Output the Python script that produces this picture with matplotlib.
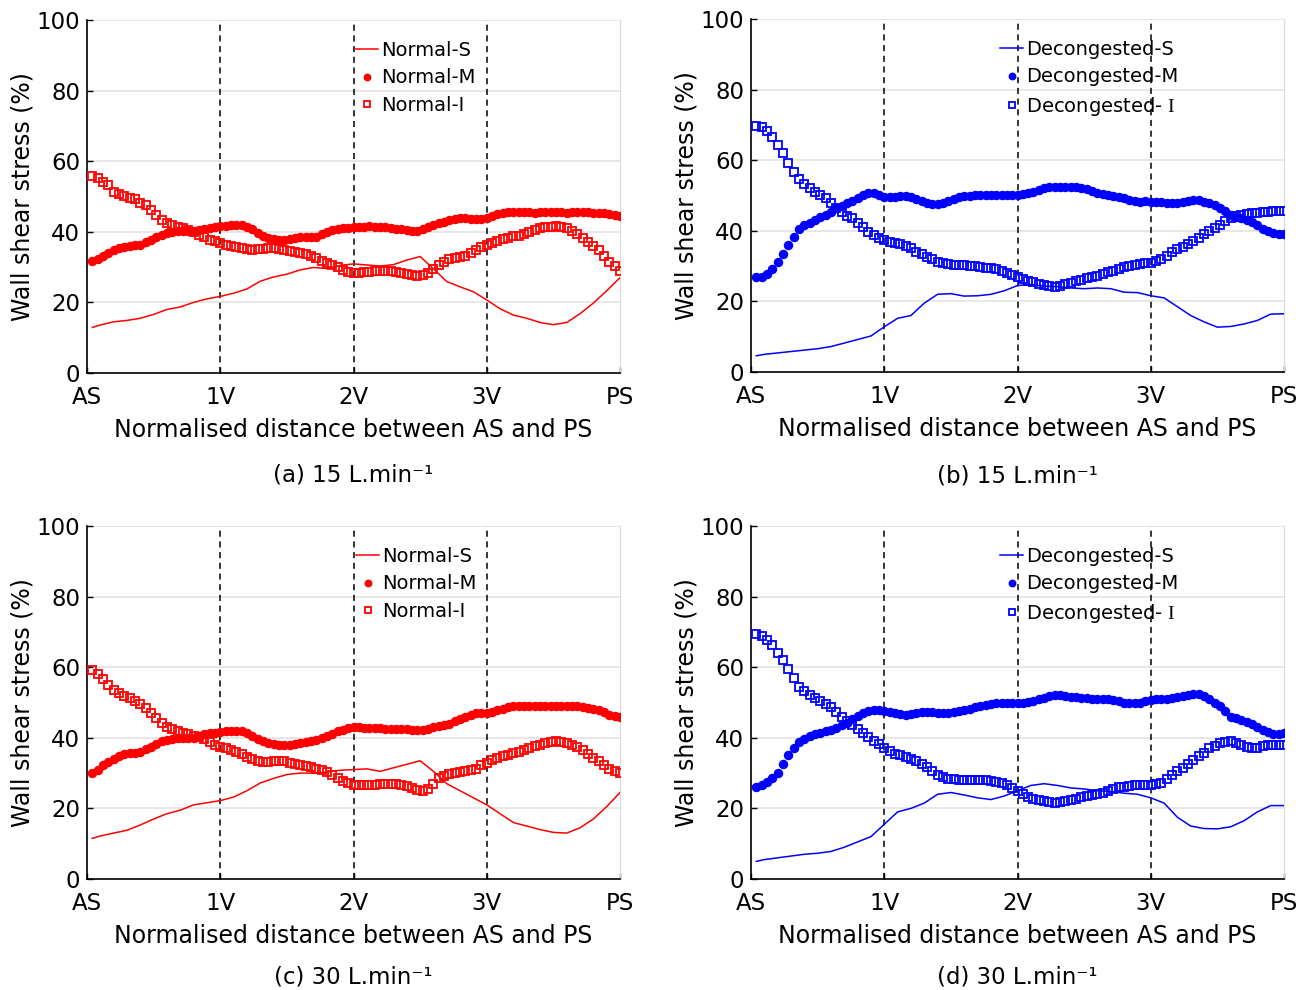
import numpy as np
import matplotlib
matplotlib.use("Agg")
import matplotlib.pyplot as plt

plt.rcParams['font.family'] = ['DejaVu Sans']
plt.rcParams['mathtext.fontset'] = 'custom'
plt.rcParams['mathtext.rm'] = 'Liberation Serif'

# ---------------- data ----------------
# marker series sampled at x = 0.04*i, i = 1..100 (AS=0, 1V=1, 2V=2, 3V=3, PS=4)
x_pts = np.arange(1, 101) * 0.04
# line series sampled at these positions
x_line = np.array([0.04] + [0.1 * k for k in range(1, 41)])

xtick_pos = [0, 1, 2, 3, 4]
xtick_labels = ["AS", "1V", "2V", "3V", "PS"]
vlines = [1, 2, 3]

# (a) Normal, 15 L/min
a_S = [12.9, 13.6, 14.5, 14.9, 15.5, 16.6, 18.0, 18.7, 20.0, 21.0, 21.7,
       22.6, 23.8, 26.0, 27.2, 28.0, 29.2, 29.9, 29.6, 30.5, 30.9,
       30.6, 30.3, 30.7, 32.0, 33.0, 29.5, 25.9, 24.4, 23.0, 20.7,
       18.2, 16.4, 15.5, 14.3, 13.7, 14.3, 16.8, 19.8, 23.3, 27.0]
a_M = [31.8, 32.3, 33.1, 34.0, 34.8, 35.4, 35.8, 36.0, 36.2, 36.4,
       37.0, 37.7, 38.4, 39.1, 39.6, 40.0, 40.2, 40.3, 40.2, 40.2,
       40.5, 40.9, 41.1, 41.4, 41.6, 41.7, 41.8, 41.9, 41.9, 41.4,
       40.7, 39.8, 38.9, 38.3, 38.0, 37.8, 37.8, 38.0, 38.2, 38.4,
       38.4, 38.4, 38.6, 39.3, 40.0, 40.4, 40.8, 41.0, 41.2, 41.3,
       41.4, 41.5, 41.6, 41.5, 41.4, 41.3, 41.1, 40.9, 40.7, 40.5,
       40.3, 40.2, 40.7, 41.4, 42.0, 42.5, 42.9, 43.3, 43.6, 43.8,
       43.8, 43.7, 43.6, 43.7, 43.8, 44.4, 45.0, 45.4, 45.6, 45.7,
       45.7, 45.6, 45.5, 45.4, 45.5, 45.6, 45.7, 45.6, 45.5, 45.4,
       45.5, 45.6, 45.6, 45.5, 45.4, 45.4, 45.2, 45.0, 44.8, 44.6]
a_I = [55.9, 55.1, 54.2, 53.3, 51.4, 50.6, 50.1, 49.7, 49.2, 48.2,
       47.6, 46.2, 44.8, 43.3, 42.4, 41.9, 41.4, 41.0, 40.5, 40.0,
       39.1, 38.4, 37.8, 37.4, 36.9, 36.4, 36.1, 35.8, 35.4, 35.0,
       34.8, 35.0, 35.2, 35.3, 35.3, 35.1, 34.9, 34.7, 34.4, 34.1,
       33.6, 33.1, 32.5, 31.8, 31.1, 30.5, 29.9, 29.3, 28.6, 28.4,
       28.4, 28.5, 28.7, 29.0, 29.0, 29.0, 29.0, 28.7, 28.4, 28.1,
       27.8, 27.6, 27.8, 28.2, 29.5, 30.6, 31.5, 32.2, 32.6, 32.9,
       33.1, 33.9, 34.8, 35.6, 36.4, 36.9, 37.5, 37.9, 38.3, 38.7,
       38.9, 39.4, 40.0, 40.5, 41.0, 41.3, 41.5, 41.6, 41.4, 41.0,
       40.2, 39.3, 38.2, 37.1, 35.9, 34.8, 33.2, 31.5, 30.2, 29.0]

# (b) Decongested, 15 L/min
b_S = [4.6, 5.0, 5.4, 5.8, 6.2, 6.6, 7.2, 8.2, 9.2, 10.2, 12.8,
       15.2, 16.0, 19.5, 22.0, 22.2, 21.5, 21.6, 22.0, 23.0, 24.5,
       24.8, 24.3, 24.2, 23.8, 23.6, 23.8, 23.6, 22.6, 22.5, 21.6,
       21.0, 18.5, 16.0, 14.2, 12.7, 12.9, 13.6, 14.6, 16.4, 16.5]
b_M = [26.8, 27.0, 27.8, 29.1, 31.2, 33.4, 36.0, 38.3, 40.4, 41.6,
       42.3, 43.1, 43.8, 44.5, 45.4, 46.4, 47.0, 47.8, 48.5, 49.4,
       50.1, 50.6, 50.6, 50.1, 49.7, 49.6, 49.6, 49.8, 49.8, 49.5,
       49.0, 48.4, 47.9, 47.5, 47.6, 47.9, 48.4, 49.0, 49.5, 49.8,
       50.0, 50.1, 50.1, 50.1, 50.1, 50.1, 50.1, 50.1, 50.1, 50.2,
       50.3, 50.7, 51.1, 51.6, 52.0, 52.3, 52.5, 52.5, 52.5, 52.4,
       52.3, 52.0, 51.7, 51.2, 50.8, 50.4, 50.1, 49.8, 49.6, 49.2,
       48.8, 48.4, 48.2, 48.4, 48.3, 48.2, 48.1, 48.0, 48.0, 48.0,
       48.1, 48.4, 48.7, 48.7, 48.3, 47.8, 47.2, 46.6, 45.6, 44.6,
       44.0, 43.6, 43.2, 42.4, 41.6, 40.6, 40.0, 39.3, 39.1, 39.0]
b_I = [69.8, 69.3, 68.4, 66.7, 64.3, 62.0, 59.1, 56.7, 54.6, 53.3,
       52.0, 51.1, 50.1, 49.2, 47.8, 46.4, 45.4, 44.2, 43.5, 42.3,
       41.0, 39.7, 38.8, 37.9, 37.3, 36.9, 36.5, 36.2, 35.8, 35.2,
       34.1, 33.4, 32.6, 31.9, 31.2, 30.8, 30.5, 30.4, 30.3, 30.2,
       30.0, 29.9, 29.8, 29.6, 29.4, 29.1, 28.6, 28.1, 27.6, 27.0,
       26.3, 25.9, 25.5, 25.0, 24.6, 24.4, 24.2, 24.3, 24.8, 25.3,
       25.8, 26.2, 26.6, 27.0, 27.3, 27.7, 28.2, 28.7, 29.3, 29.7,
       30.0, 30.2, 30.5, 30.8, 31.0, 31.5, 32.1, 32.9, 34.0, 34.8,
       35.5, 36.4, 37.2, 38.1, 39.0, 39.9, 40.8, 41.7, 42.8, 43.6,
       44.2, 44.5, 44.8, 45.0, 45.1, 45.3, 45.4, 45.5, 45.6, 45.7]

# (c) Normal, 30 L/min
c_S = [11.5, 12.2, 13.0, 13.8, 15.3, 17.0, 18.5, 19.5, 21.0, 21.6, 22.2,
       23.2, 25.0, 27.2, 28.5, 29.6, 30.0, 30.0, 30.3, 30.8, 31.0,
       31.2, 30.5, 31.5, 32.5, 33.5, 30.5, 27.0, 25.0, 23.0, 21.0,
       18.5, 16.0, 15.0, 14.0, 13.2, 13.0, 14.5, 17.0, 20.5, 24.5]
c_M = [30.0, 31.0, 32.2, 33.2, 34.0, 34.8, 35.4, 35.6, 35.8, 36.0,
       36.8, 37.5, 38.3, 39.0, 39.4, 39.7, 39.9, 40.0, 40.0, 40.0,
       40.5, 41.0, 41.3, 41.5, 41.7, 41.9, 42.0, 42.0, 41.8, 41.3,
       40.5, 39.8, 39.1, 38.5, 38.2, 38.0, 38.0, 38.1, 38.3, 38.5,
       38.8, 39.2, 39.5, 40.0, 40.6, 41.2, 41.8, 42.3, 42.7, 43.0,
       43.0, 42.9, 42.8, 42.8, 42.7, 42.6, 42.5, 42.5, 42.5, 42.5,
       42.3, 42.1, 42.1, 42.5, 43.0, 43.3, 43.7, 44.0, 44.7, 45.4,
       46.0, 46.6, 47.0, 47.0, 47.0, 47.3, 47.8, 48.2, 48.6, 49.0,
       49.0, 49.0, 49.0, 49.0, 49.0, 49.0, 49.1, 49.1, 49.0, 49.0,
       49.0, 48.9, 48.7, 48.5, 48.3, 48.0, 47.3, 46.5, 46.2, 46.0]
c_I = [59.2, 58.0, 56.6, 55.0, 53.6, 52.6, 51.8, 51.2, 50.5, 49.7,
       48.4, 47.0, 45.5, 44.2, 43.2, 42.4, 41.8, 41.3, 41.0, 40.6,
       40.2, 39.6, 38.8, 38.0, 37.5, 37.0, 36.5, 36.0, 35.3, 34.6,
       34.0, 33.5, 33.1, 33.1, 33.4, 33.5, 33.3, 33.0, 32.6, 32.3,
       32.0, 31.6, 31.2, 30.8, 30.2, 29.5, 28.7, 27.8, 27.1, 26.6,
       26.5, 26.5, 26.5, 26.7, 26.9, 27.0, 27.0, 27.0, 26.7, 26.3,
       25.8, 25.3, 25.0, 25.6, 26.8, 28.5, 29.3, 29.7, 30.0, 30.2,
       30.5, 30.8, 31.2, 32.2, 33.0, 33.8, 34.3, 34.8, 35.2, 35.6,
       36.0, 36.5, 37.0, 37.6, 38.1, 38.5, 38.8, 39.0, 38.9, 38.5,
       38.0, 37.4, 36.6, 35.5, 34.4, 33.3, 32.3, 31.3, 30.5, 30.0]

# (d) Decongested, 30 L/min
d_S = [5.0, 5.5, 6.0, 6.5, 7.0, 7.3, 7.8, 9.0, 10.5, 12.0, 15.5,
       19.0, 20.0, 21.5, 24.0, 24.5, 23.8, 23.0, 22.5, 23.5, 25.0,
       26.5, 27.0, 26.5, 25.8, 25.5, 25.0, 24.8, 24.3, 24.0, 23.0,
       21.5, 17.5, 15.0, 14.3, 14.2, 14.8, 16.5, 19.0, 20.8, 20.8]
d_M = [26.0, 26.5, 27.5, 28.5, 30.0, 32.5, 35.0, 37.0, 38.7, 39.7,
       40.5, 41.0, 41.4, 41.8, 42.2, 42.8, 43.5, 44.3, 45.2, 46.2,
       47.0, 47.6, 48.0, 47.8, 47.5, 47.2, 47.0, 46.8, 46.6, 46.7,
       47.0, 47.3, 47.4, 47.2, 47.0, 47.0, 47.0, 47.3, 47.6, 48.0,
       48.3, 48.7, 49.0, 49.4, 49.7, 50.0, 50.0, 50.0, 50.0, 50.0,
       50.0, 50.2, 50.5, 50.9, 51.3, 51.7, 52.0, 52.0, 51.8, 51.6,
       51.5, 51.4, 51.3, 51.1, 51.0, 51.0, 51.0, 50.7, 50.3, 50.0,
       49.8, 49.8, 50.0, 50.3, 50.7, 51.0, 51.0, 51.0, 51.2, 51.5,
       51.9, 52.2, 52.5, 52.4, 51.8, 51.0, 50.0, 49.0, 47.5, 46.0,
       45.5, 45.0, 44.5, 43.8, 43.0, 42.3, 41.7, 41.0, 41.0, 41.5]
d_I = [69.5, 68.8, 67.8, 66.2, 64.0, 62.0, 59.5, 57.0, 54.5, 53.3,
       52.2, 51.3, 50.5, 49.6, 48.7, 47.2, 45.8, 44.7, 43.6, 42.5,
       41.5, 40.3, 39.2, 38.2, 37.2, 36.2, 35.5, 35.0, 34.5, 34.0,
       33.4, 32.6, 31.6, 30.6, 29.6, 28.8, 28.4, 28.2, 28.1, 28.0,
       28.0, 28.0, 28.0, 28.0, 27.8, 27.6, 27.3, 26.6, 25.8, 25.0,
       24.1, 23.3, 22.7, 22.3, 22.0, 21.7, 21.5, 21.7, 22.0, 22.4,
       22.8, 23.1, 23.4, 23.8, 24.2, 24.5, 24.9, 25.4, 26.0, 26.2,
       26.4, 26.5, 26.5, 26.5, 26.5, 26.8, 27.3, 28.3, 29.5, 30.5,
       31.5, 32.6, 33.6, 34.8, 35.8, 37.0, 37.8, 38.5, 38.9, 39.0,
       38.5, 37.9, 37.3, 37.0, 37.2, 37.6, 37.9, 38.0, 38.0, 38.0]

panels = [
    dict(S=a_S, M=a_M, I=a_I, color="#ff0000",
         labels=["Normal-S", "Normal-M", "Normal-I"],
         caption="(a) 15 L.min\u207b\u00b9", leg_x=0.503),
    dict(S=b_S, M=b_M, I=b_I, color="#0000ff",
         labels=["Decongested-S", "Decongested-M", r"Decongested- $\mathrm{I}$"],
         caption="(b) 15 L.min\u207b\u00b9", leg_x=0.467),
    dict(S=c_S, M=c_M, I=c_I, color="#ff0000",
         labels=["Normal-S", "Normal-M", "Normal-I"],
         caption="(c) 30 L.min\u207b\u00b9", leg_x=0.505),
    dict(S=d_S, M=d_M, I=d_I, color="#0000ff",
         labels=["Decongested-S", "Decongested-M", r"Decongested- $\mathrm{I}$"],
         caption="(d) 30 L.min\u207b\u00b9", leg_x=0.467),
]

# axes rectangles in figure fraction (left, bottom, width, height)
W, H = 1316, 990
rects = [
    (87 / W, 1 - 373 / H, 533 / W, 353 / H),
    (751 / W, 1 - 372 / H, 533 / W, 353 / H),
    (87 / W, 1 - 879 / H, 533 / W, 353 / H),
    (751 / W, 1 - 879 / H, 533 / W, 353 / H),
]
caption_y = [1 - 475 / H, 1 - 476 / H, 1 - 977 / H, 1 - 977 / H]

fig = plt.figure(figsize=(W / 100, H / 100), dpi=100)
TICK_FS = 16.5
LAB_FS = 17
LEG_FS = 14
CAP_FS = 16.5

for p, r, cy in zip(panels, rects, caption_y):
    ax = fig.add_axes(r)
    col = p["color"]
    ax.set_xlim(0, 4)
    ax.set_ylim(0, 100)
    ax.set_yticks([0, 20, 40, 60, 80, 100])
    ax.set_xticks(xtick_pos)
    ax.set_xticklabels(xtick_labels)
    for y in [20, 40, 60, 80, 100]:
        ax.axhline(y, color="#e3e3e3", lw=1.2, zorder=0)
    for xv in vlines:
        ax.axvline(xv, color="black", lw=1.1, ls=(0, (4, 3)), zorder=1)
    ax.plot(x_line, p["S"], color=col, lw=1.1, label=p["labels"][0], zorder=3)
    ax.plot(x_pts, p["M"], ls="none", marker="o", ms=5.8, color=col,
            mec=col, label=p["labels"][1], zorder=4)
    ax.plot(x_pts, p["I"], ls="none", marker="s", ms=5.2, mfc="none",
            mec=col, mew=1.3, label=p["labels"][2], zorder=4)
    ax.spines["top"].set_visible(False)
    ax.spines["right"].set_color("#d8d8d8")
    ax.spines["left"].set_linewidth(1.2)
    ax.spines["bottom"].set_linewidth(1.2)
    ax.tick_params(direction="in", length=4, width=1, labelsize=TICK_FS,
                   right=False, top=False)
    ax.tick_params(axis="x", pad=9.5)
    ax.tick_params(axis="y", pad=5)
    ax.set_ylabel("Wall shear stress (%)", fontsize=LAB_FS)
    ax.yaxis.set_label_coords(-0.098, 0.5)
    ax.set_xlabel("Normalised distance between AS and PS", fontsize=LAB_FS,
                  labelpad=6.5)
    ax.legend(loc="upper left", bbox_to_anchor=(p["leg_x"], 0.94),
              frameon=False, fontsize=LEG_FS, handlelength=1.2,
              handletextpad=0.15, labelspacing=0.42, borderpad=0,
              borderaxespad=0, markerscale=0.8)
    cx = r[0] + r[2] / 2
    fig.text(cx, cy, p["caption"], ha="center", va="center", fontsize=CAP_FS,
             family="DejaVu Sans")

fig.savefig("out.png", dpi=100)
